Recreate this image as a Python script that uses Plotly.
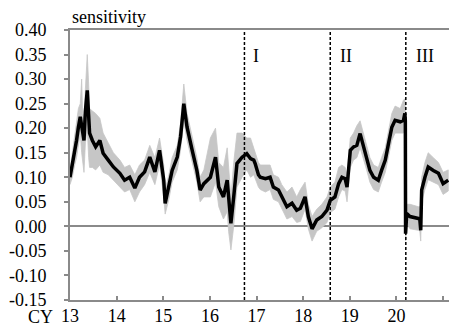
import plotly.graph_objects as go

# ---- data ----
years = [13.00, 13.05, 13.10, 13.14, 13.18, 13.22, 13.25, 13.27, 13.30, 13.33, 13.37, 13.40,
         13.42, 13.48, 13.55, 13.64, 13.71, 13.82, 13.93, 14.07, 14.17, 14.28, 14.39, 14.49,
         14.60, 14.71, 14.82, 14.92, 15.01, 15.04, 15.12, 15.19, 15.30, 15.37, 15.44, 15.51,
         15.62, 15.72, 15.79, 15.87, 16.01, 16.12, 16.19, 16.29, 16.37, 16.40, 16.45, 16.51,
         16.58, 16.69, 16.79, 16.87, 16.94, 16.97, 17.04, 17.08, 17.19, 17.29, 17.36, 17.47,
         17.54, 17.65, 17.76, 17.86, 17.94, 18.04, 18.11, 18.19, 18.29, 18.40, 18.51, 18.58,
         18.68, 18.76, 18.83, 18.90, 18.94, 19.01, 19.08, 19.15, 19.22, 19.29, 19.36, 19.43,
         19.51, 19.61, 19.68, 19.76, 19.83, 19.90, 19.97, 20.08, 20.15, 20.18, 20.19, 20.195,
         20.22, 20.29, 20.47, 20.50, 20.52, 20.54, 20.61, 20.68, 20.79, 20.90, 21.00, 21.11]
sensitivity = [0.100, 0.125, 0.155, 0.175, 0.202, 0.223, 0.205, 0.190, 0.175, 0.235, 0.277, 0.225,
               0.190, 0.175, 0.162, 0.175, 0.149, 0.135, 0.121, 0.108, 0.094, 0.100, 0.078, 0.100,
               0.111, 0.141, 0.111, 0.155, 0.094, 0.047, 0.080, 0.114, 0.141, 0.182, 0.250, 0.202,
               0.155, 0.114, 0.074, 0.087, 0.100, 0.141, 0.080, 0.060, 0.094, 0.060, 0.006, 0.060,
               0.128, 0.141, 0.148, 0.138, 0.135, 0.128, 0.105, 0.100, 0.097, 0.100, 0.080, 0.074,
               0.060, 0.040, 0.047, 0.033, 0.037, 0.060, 0.020, -0.005, 0.013, 0.020, 0.033, 0.053,
               0.060, 0.087, 0.100, 0.097, 0.080, 0.155, 0.162, 0.165, 0.189, 0.165, 0.141, 0.114,
               0.100, 0.094, 0.114, 0.135, 0.169, 0.202, 0.216, 0.213, 0.216, 0.230, 0.215, -0.015,
               0.026, 0.020, 0.016, 0.015, -0.008, 0.074, 0.100, 0.121, 0.114, 0.108, 0.087, 0.094]
band_upper = [0.115, 0.150, 0.185, 0.215, 0.240, 0.250, 0.300, 0.230, 0.215, 0.280, 0.350, 0.290,
              0.240, 0.235, 0.230, 0.220, 0.190, 0.170, 0.150, 0.135, 0.120, 0.125, 0.105, 0.125,
              0.135, 0.165, 0.140, 0.180, 0.125, 0.075, 0.105, 0.140, 0.165, 0.210, 0.290, 0.230,
              0.180, 0.140, 0.100, 0.115, 0.180, 0.200, 0.130, 0.120, 0.160, 0.120, 0.060, 0.130,
              0.190, 0.190, 0.180, 0.180, 0.160, 0.150, 0.130, 0.125, 0.125, 0.125, 0.105, 0.100,
              0.085, 0.070, 0.080, 0.060, 0.075, 0.090, 0.045, 0.020, 0.035, 0.045, 0.060, 0.080,
              0.090, 0.120, 0.125, 0.120, 0.105, 0.180, 0.190, 0.205, 0.215, 0.190, 0.165, 0.140,
              0.125, 0.120, 0.140, 0.160, 0.195, 0.230, 0.245, 0.240, 0.257, 0.260, 0.240, 0.010,
              0.045, 0.045, 0.040, 0.040, 0.015, 0.100, 0.130, 0.150, 0.140, 0.130, 0.110, 0.115]
band_lower = [0.085, 0.100, 0.125, 0.140, 0.160, 0.190, 0.150, 0.130, 0.110, 0.170, 0.200, 0.140,
              0.120, 0.120, 0.115, 0.125, 0.110, 0.105, 0.095, 0.080, 0.070, 0.075, 0.050, 0.070,
              0.085, 0.110, 0.085, 0.125, 0.060, 0.025, 0.055, 0.090, 0.115, 0.155, 0.215, 0.175,
              0.130, 0.090, 0.050, 0.060, 0.060, 0.090, 0.040, 0.015, 0.030, -0.010, -0.048, 0.000,
              0.080, 0.100, 0.115, 0.100, 0.105, 0.100, 0.080, 0.075, 0.070, 0.075, 0.055, 0.050,
              0.035, 0.015, 0.020, 0.008, 0.010, 0.035, -0.005, -0.030, -0.010, -0.003, 0.008, 0.028,
              0.035, 0.060, 0.075, 0.072, 0.050, 0.120, 0.135, 0.140, 0.160, 0.140, 0.115, 0.090,
              0.075, 0.070, 0.090, 0.110, 0.140, 0.175, 0.190, 0.190, 0.190, 0.200, 0.190, -0.030,
              0.005, -0.005, -0.008, -0.010, -0.030, 0.050, 0.075, 0.095, 0.090, 0.085, 0.065, 0.072]

period_breaks = [16.74, 18.58, 20.20]
period_labels = ["I", "II", "III"]
label_years = [16.80, 18.66, 20.28]

x_ticks = [13, 14, 15, 16, 17, 18, 19, 20, 21]
x_tick_text = ["13", "14", "15", "16", "17", "18", "19", "20", "21"]
y_ticks = [0.40, 0.35, 0.30, 0.25, 0.20, 0.15, 0.10, 0.05, 0.00, -0.05, -0.10, -0.15]
y_tick_text = ["0.40", "0.35", "0.30", "0.25", "0.20", "0.15", "0.10", "0.05", "0.00",
               "-0.05", "-0.10", "-0.15"]

FONT = "Liberation Serif"
GRAY = "#8a8a8a"

fig = go.Figure()
fig.add_trace(go.Scatter(
    x=years + years[::-1], y=band_upper + band_lower[::-1],
    fill="toself", fillcolor="#c6c6c6", line=dict(width=0.8, color="#c6c6c6"),
    mode="lines", hoverinfo="skip", showlegend=False))
fig.add_trace(go.Scatter(
    x=years, y=sensitivity, mode="lines",
    line=dict(color="black", width=3.5), showlegend=False))

for b in period_breaks:
    fig.add_shape(type="line", x0=b, x1=b, y0=-0.15, y1=0.40, xref="x", yref="y",
                  line=dict(color="black", width=1.5, dash="3px,2px"))
for lx, lab in zip(label_years, period_labels):
    fig.add_annotation(x=lx, y=0.348, text=lab, showarrow=False, xanchor="left",
                       yanchor="middle", xshift=4,
                       font=dict(family=FONT, size=18, color="black"))

fig.add_annotation(xref="paper", yref="paper", x=0, y=1, xshift=0, yshift=1,
                   xanchor="left", yanchor="bottom", text="sensitivity", showarrow=False,
                   font=dict(family=FONT, size=18, color="black"))
fig.add_annotation(xref="paper", yref="paper", x=0, y=0, xshift=-15, yshift=-17,
                   xanchor="right", yanchor="middle", text="CY", showarrow=False,
                   font=dict(family=FONT, size=18, color="black"))

fig.update_layout(
    width=449, height=333,
    margin=dict(l=70, r=0, t=30, b=33),
    paper_bgcolor="white", plot_bgcolor="white",
    font=dict(family=FONT, size=18, color="black"),
    xaxis=dict(range=[13, 21.126], tickvals=x_ticks, ticktext=x_tick_text,
               ticks="inside", ticklen=4, tickcolor=GRAY, tickwidth=1.5,
               showline=True, linecolor=GRAY, linewidth=2, mirror=True,
               showgrid=False, zeroline=False, automargin=False,
               ticklabelstandoff=-2),
    yaxis=dict(range=[-0.15, 0.40], tickvals=y_ticks, ticktext=y_tick_text,
               ticks="outside", ticklen=4, tickcolor=GRAY, tickwidth=1.5,
               showline=True, linecolor=GRAY, linewidth=2,
               showgrid=False, zeroline=True, zerolinecolor=GRAY, zerolinewidth=2,
               ticklabelstandoff=14, automargin=False),
)

fig.write_html("out.html", config={"displayModeBar": False},
               post_script="document.body.style.margin='0';document.body.style.overflow='hidden';")
